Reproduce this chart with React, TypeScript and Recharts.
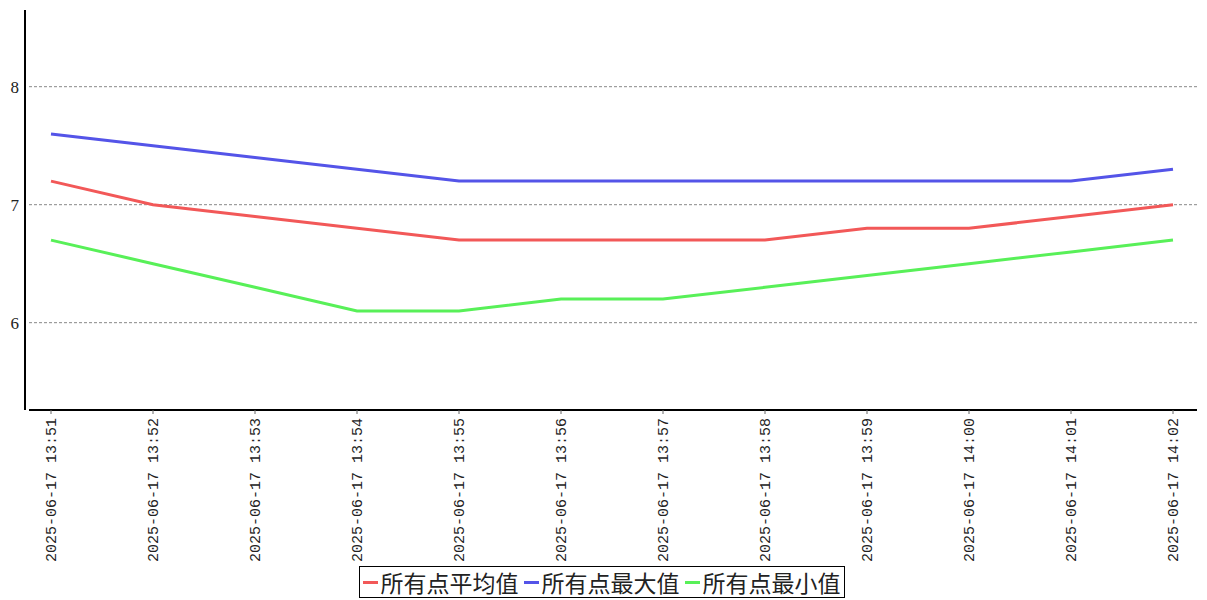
import {
  Legend,
  Line,
  LineChart,
  ReferenceLine,
  XAxis,
  YAxis,
} from "recharts";

const times = [
  "2025-06-17 13:51",
  "2025-06-17 13:52",
  "2025-06-17 13:53",
  "2025-06-17 13:54",
  "2025-06-17 13:55",
  "2025-06-17 13:56",
  "2025-06-17 13:57",
  "2025-06-17 13:58",
  "2025-06-17 13:59",
  "2025-06-17 14:00",
  "2025-06-17 14:01",
  "2025-06-17 14:02",
];
const avgValues = [7.2, 7.0, 6.9, 6.8, 6.7, 6.7, 6.7, 6.7, 6.8, 6.8, 6.9, 7.0];
const maxValues = [7.6, 7.5, 7.4, 7.3, 7.2, 7.2, 7.2, 7.2, 7.2, 7.2, 7.2, 7.3];
const minValues = [6.7, 6.5, 6.3, 6.1, 6.1, 6.2, 6.2, 6.3, 6.4, 6.5, 6.6, 6.7];
const yTicks = [6, 7, 8];

const series = [
  { key: "avg", name: "所有点平均值", color: "#f25858" },
  { key: "max", name: "所有点最大值", color: "#5454e8" },
  { key: "min", name: "所有点最小值", color: "#58f058" },
];

const chartData = times.map((time, i) => ({
  time,
  avg: avgValues[i],
  max: maxValues[i],
  min: minValues[i],
}));

const tickFont = "'Liberation Mono', 'DejaVu Sans Mono', monospace";

function XTick({ x, y, payload }: any) {
  return (
    <g transform={`translate(${x},${y})`}>
      <text
        transform="rotate(-90)"
        textAnchor="end"
        dy={5}
        fill="#222"
        fontSize={15}
        fontFamily={tickFont}
      >
        {payload.value}
      </text>
    </g>
  );
}

function YTick({ x, y, payload }: any) {
  return (
    <text
      x={x}
      y={y}
      dy={6}
      textAnchor="end"
      fill="#222"
      fontSize={17}
      fontFamily="'Liberation Serif', 'DejaVu Serif', serif"
    >
      {payload.value}
    </text>
  );
}

function LegendBox() {
  return (
    <div style={{ display: "flex", justifyContent: "center" }}>
      <div
        style={{
          display: "flex",
          alignItems: "center",
          height: 32,
          boxSizing: "border-box",
          border: "1px solid #000",
          padding: "0 3px 0 3px",
          fontFamily: "'Noto Sans CJK SC', serif",
          fontSize: 23,
          color: "#222",
          gap: 5,
          marginLeft: 6,
        }}
      >
        {series.map((s) => (
          <span key={s.key} style={{ display: "flex", alignItems: "center" }}>
            <span
              style={{
                display: "inline-block",
                width: 15,
                height: 3,
                background: s.color,
                marginRight: 3,
              }}
            />
            {s.name}
          </span>
        ))}
      </div>
    </div>
  );
}

export default function App() {
  return (
    <div style={{ position: "absolute", left: 0, top: 0, background: "#fff" }}>
      <LineChart
        width={1207}
        height={600}
        data={chartData}
        margin={{ top: 10, right: 10, left: 0, bottom: 2 }}
      >
        <XAxis
          dataKey="time"
          interval={0}
          height={156}
          padding={{ left: 22, right: 24 }}
          axisLine={{ stroke: "#000", strokeWidth: 2 }}
          tickLine={{ stroke: "#666" }}
          tickSize={4}
          tickMargin={4}
          tick={<XTick />}
        />
        <YAxis
          width={29}
          domain={[5.26, 8.65]}
          ticks={yTicks}
          allowDataOverflow
          axisLine={{ stroke: "#000", strokeWidth: 2, transform: "translate(-4,0)" }}
          tickLine={false}
          tickSize={6}
          tickMargin={4}
          tick={<YTick />}
        />
        {yTicks.map((t) => (
          <ReferenceLine
            key={t}
            y={t}
            stroke="#888"
            strokeDasharray="3 2"
            ifOverflow="visible"
          />
        ))}
        <Legend verticalAlign="bottom" content={<LegendBox />} />
        {series.map((s) => (
          <Line
            key={s.key}
            type="linear"
            dataKey={s.key}
            name={s.name}
            stroke={s.color}
            strokeWidth={3}
            dot={false}
            activeDot={false}
            isAnimationActive={false}
          />
        ))}
      </LineChart>
    </div>
  );
}
